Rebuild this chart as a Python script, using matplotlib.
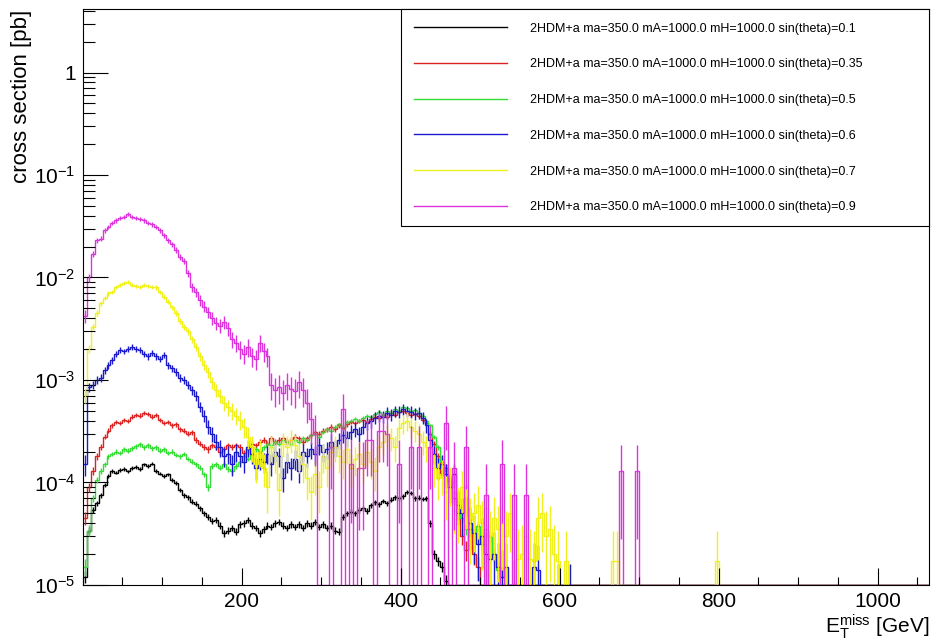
import numpy as np
import matplotlib.pyplot as plt
from matplotlib.lines import Line2D
from matplotlib.ticker import FixedLocator, MultipleLocator, LogLocator, NullFormatter

plt.rcParams['font.family'] = ['Liberation Sans', 'DejaVu Sans']
plt.rcParams['mathtext.fontset'] = 'custom'
plt.rcParams['mathtext.rm'] = 'Liberation Sans'
plt.rcParams['mathtext.it'] = 'Liberation Sans'

# MET histograms, 5 GeV bins starting at 0, contents in units of 1e-5 pb
UNIT = 1e-5
BIN_WIDTH = 5
X_MAX = 1065
Y_MIN, Y_MAX = 1e-5, 4.12

sin_theta = ['0.1', '0.35', '0.5', '0.6', '0.7', '0.9']
colors = ['#000000', '#dd2222', '#33dd33', '#1a1acc', '#f0f01e', '#dd33dd']

# per-event weight of each sample (same units), sets the stat. error bars
evt_weight = [0.02, 0.1, 0.05, 0.8, 1.7, 8.0]

black = [
    1.2, 3.4, 5.4, 6.3, 7.5, 9.5, 11.5, 13.0, 12.5, 13.3,
    13.5, 12.8, 13.8, 14.2, 13.5, 15.0, 14.5, 15.2, 13.0, 12.2,
    11.5, 12.0, 10.5, 9.8, 8.5, 7.5, 7.2, 6.5, 6.2, 5.6,
    5.0, 4.6, 4.2, 4.3, 3.8, 3.2, 3.4, 3.6, 3.3, 3.9,
    4.0, 4.3, 3.8, 3.6, 3.2, 3.5, 3.8, 3.7, 4.0, 4.1,
    3.8, 3.6, 3.9, 3.7, 3.9, 3.6, 4.0, 3.8, 4.1, 3.7,
    3.9, 3.6, 3.8, 3.4, 3.3, 4.6, 5.0, 5.2, 5.0, 5.4,
    5.6, 5.3, 6.0, 6.4, 6.1, 6.6, 6.3, 6.8, 7.2, 7.0,
    7.3, 8.1, 7.9, 7.0, 7.1, 6.9, 7.0, 4.0, 2.0, 1.7,
    1.5, 1.1,
]

red = [
    4.5, 9, 13, 18, 22, 28, 32, 36, 39, 38,
    41, 40, 44, 46, 45, 48, 47, 44, 46, 41,
    38, 39, 36, 37, 33, 32, 30, 31, 26, 24,
    22, 21, 23, 22, 20, 21, 23, 22, 23, 22,
    19.5, 21, 24, 23, 25, 26, 24, 27, 25, 26,
    27, 25, 26, 28, 27, 25, 27, 29, 31, 30,
    32, 33, 35, 33, 36, 34, 37, 39, 38, 40,
    41, 39, 42, 44, 43, 46, 44, 48, 46, 49,
    50, 48, 46, 47, 45, 41, 38, 30, 24, 18,
    12, 14, 10, 7, 5, 3, 2.2, 3.5, 2, 1.5,
]

green = [
    1.5, 3.4, 7, 10.5, 13, 15, 18, 19, 20, 19.5,
    21, 20.5, 21.5, 22.5, 23.5, 22, 23, 21.5, 22, 20.5,
    21, 19.5, 20, 18.5, 18, 19, 17, 16, 15, 14,
    12, 9, 14.5, 15, 14, 15, 13.5, 13, 14.5, 16,
    18, 17, 19, 21, 20, 22, 24, 23, 25, 24,
    26, 25, 24, 26, 25, 27, 26, 29, 30, 28,
    31, 33, 32, 35, 37, 35, 39, 40, 42, 40,
    43, 45, 44, 47, 49, 46, 50, 48, 52, 50,
    54, 53, 50, 51, 48, 45, 40, 36, 28, 22,
    16, 13, 10, 8, 6, 4.5, 3.5, 4, 3.2, 3.8,
    2.5, 3.5, 3, 2, 1.4,
]

blue = [
    15, 85, 90, 100, 105, 125, 140, 155, 180, 195,
    190, 200, 210, 200, 195, 180, 170, 185, 170, 160,
    175, 140, 130, 120, 105, 100, 90, 80, 70, 55,
    45, 35, 30, 25, 22, 18, 19, 15, 20, 18,
    16, 22, 19, 14, 17, 16, 19, 15, 20, 18,
    11, 16, 14, 17, 13, 20, 18, 21, 19, 23,
    20, 21, 25, 22, 26, 29, 27, 31, 33, 30,
    35, 38, 40, 43, 45, 44, 48, 46, 50, 49,
    52, 50, 49, 47, 48, 43, 36, 26, 19, 14,
    15, 12, 9, 12, 6, 5, 7, 4, 3.2, 2.5,
    3, 2.0, 1.8, 2.0, 1.5, 1.2, 1.5, 0, 0.9, 0,
    0, 0, 0, 1.5, 1.4, 0, 0, 0, 0, 0.8,
    0, 0, 0.8,
]

yellow = [
    70, 200, 330, 450, 560, 630, 700, 720, 810, 850,
    880, 900, 850, 830, 810, 850, 820, 810, 800, 720,
    650, 580, 510, 450, 380, 330, 300, 250, 210, 170,
    140, 120, 95, 80, 70, 60, 54, 50, 45, 41,
    35, 28, 22, 15, 20, 14, 9, 22, 18, 8.5,
    24, 22, 26, 23, 18, 15, 11, 8, 12, 9,
    18, 14, 20, 22, 18, 16, 21, 14, 17, 19,
    15, 20, 16, 13, 22, 25, 30, 27, 22, 34,
    38, 40, 35, 32, 30, 25, 22, 18, 14, 11,
    12, 8, 10, 6.5, 5.7, 9, 7, 4.3, 5, 6,
    4, 5.7, 3, 4.5, 3.5, 4, 3, 5, 3.5, 1.8,
    2, 3, 1.8, 1.7, 4.5, 5, 3, 3.5, 2, 1.7,
    0, 1.7, 0, 0, 0, 0, 0, 0, 0, 0,
    0, 0, 0, 1.7, 1.7, 0, 0, 0, 0, 0,
    0, 0, 0, 0, 0, 0, 0, 0, 0, 0,
    0, 0, 0, 0, 0, 0, 0, 0, 0, 1.7,
]

magenta = [
    420, 1000, 1700, 2300, 2400, 2900, 3100, 3400, 3600, 3800,
    3900, 4200, 3900, 3800, 3700, 3600, 3400, 3300, 3100, 2900,
    2600, 2300, 2100, 1850, 1600, 1450, 1100, 800, 720, 600,
    520, 460, 400, 360, 340, 370, 320, 250, 230, 200,
    180, 210, 170, 160, 230, 190, 170, 90, 80, 85,
    75, 90, 82, 78, 95, 80, 60, 42, 30, 0,
    0, 0, 22, 0, 0, 52, 0, 15, 0, 14,
    14, 26, 26, 0, 32, 32, 30, 0, 0, 15,
    0, 0, 22, 0, 22, 0, 0, 22, 0, 0,
    0, 38, 0, 14, 0, 0, 22, 0, 0, 0,
    0, 7.5, 0, 0, 0, 15, 0, 0, 7.5, 0,
    0, 7.5, 0, 0, 0, 0, 0, 0, 0, 0,
    0, 0, 0, 0, 0, 0, 0, 0, 0, 0,
    0, 0, 0, 0, 0, 13, 0, 0, 0, 13,
]

samples = [black, red, green, blue, yellow, magenta]

edges = np.arange(0, X_MAX + BIN_WIDTH, BIN_WIDTH)
centres = 0.5 * (edges[:-1] + edges[1:])
n_bins = len(centres)

fig = plt.figure(figsize=(9.34, 6.41), dpi=100)
ax = fig.add_axes([0.0885, 0.0874, 0.9065, 0.8978])

handles, labels = [], []
for vals, w, col, st in zip(samples, evt_weight, colors, sin_theta):
    h = np.zeros(n_bins)
    h[:len(vals)] = vals
    err = np.sqrt(h * w) * UNIT
    h = h * UNIT
    # empty / tiny bins sit on the frame bottom like ROOT does on log scale
    ax.stairs(np.clip(h, Y_MIN, None), edges, color=col, lw=1.0, baseline=None)
    filled = h > 0
    lo = np.where(h - err > 0, h - err, 1e-9)
    ax.vlines(centres[filled], lo[filled], (h + err)[filled], color=col, lw=1.0)
    handles.append(Line2D([], [], color=col, lw=1.0))
    labels.append(f'2HDM+a ma=350.0 mA=1000.0 mH=1000.0 sin(theta)={st}')

ax.set_xlim(0, X_MAX)
ax.set_yscale('log')
ax.set_ylim(Y_MIN, Y_MAX)

ax.xaxis.set_major_locator(FixedLocator([200, 400, 600, 800, 1000]))
ax.xaxis.set_minor_locator(MultipleLocator(50))
ax.set_yticks([1e-5, 1e-4, 1e-3, 1e-2, 1e-1, 1])
ax.set_yticklabels([r'$10^{-5}$', r'$10^{-4}$', r'$10^{-3}$', r'$10^{-2}$', r'$10^{-1}$', '1'])
ax.yaxis.set_minor_locator(LogLocator(base=10, subs=np.arange(2, 10)))
ax.yaxis.set_minor_formatter(NullFormatter())

ax.tick_params(axis='y', which='major', direction='in', length=18, width=0.8,
               pad=5, labelsize=15, right=False)
ax.tick_params(axis='y', which='minor', direction='in', length=8.6, width=0.8, right=False)
ax.tick_params(axis='x', which='major', direction='in', length=12, width=0.8,
               pad=5, labelsize=15, top=False)
ax.tick_params(axis='x', which='minor', direction='in', length=6, width=0.8, top=False)
for sp in ax.spines.values():
    sp.set_linewidth(0.8)

ax.set_xlabel(r'$\mathrm{E}_{\mathrm{T}}^{\mathrm{miss}}$ [GeV]', fontsize=15, loc='right')
ax.xaxis.set_label_coords(1.0, -0.047)
ax.set_ylabel('cross section [pb]', fontsize=16, loc='top')
ax.yaxis.set_label_coords(-0.06, 1.0)

leg = ax.legend(handles, labels, loc='upper left', bbox_to_anchor=(0.376, 0.0, 0.624, 1.0),
                mode='expand', borderaxespad=0, fontsize=9.0, fancybox=False,
                edgecolor='black', framealpha=1, borderpad=1.05, labelspacing=1.9,
                handlelength=7.4, handletextpad=1.9)
leg.get_frame().set_linewidth(0.8)

fig.savefig('out.png', dpi=100)
